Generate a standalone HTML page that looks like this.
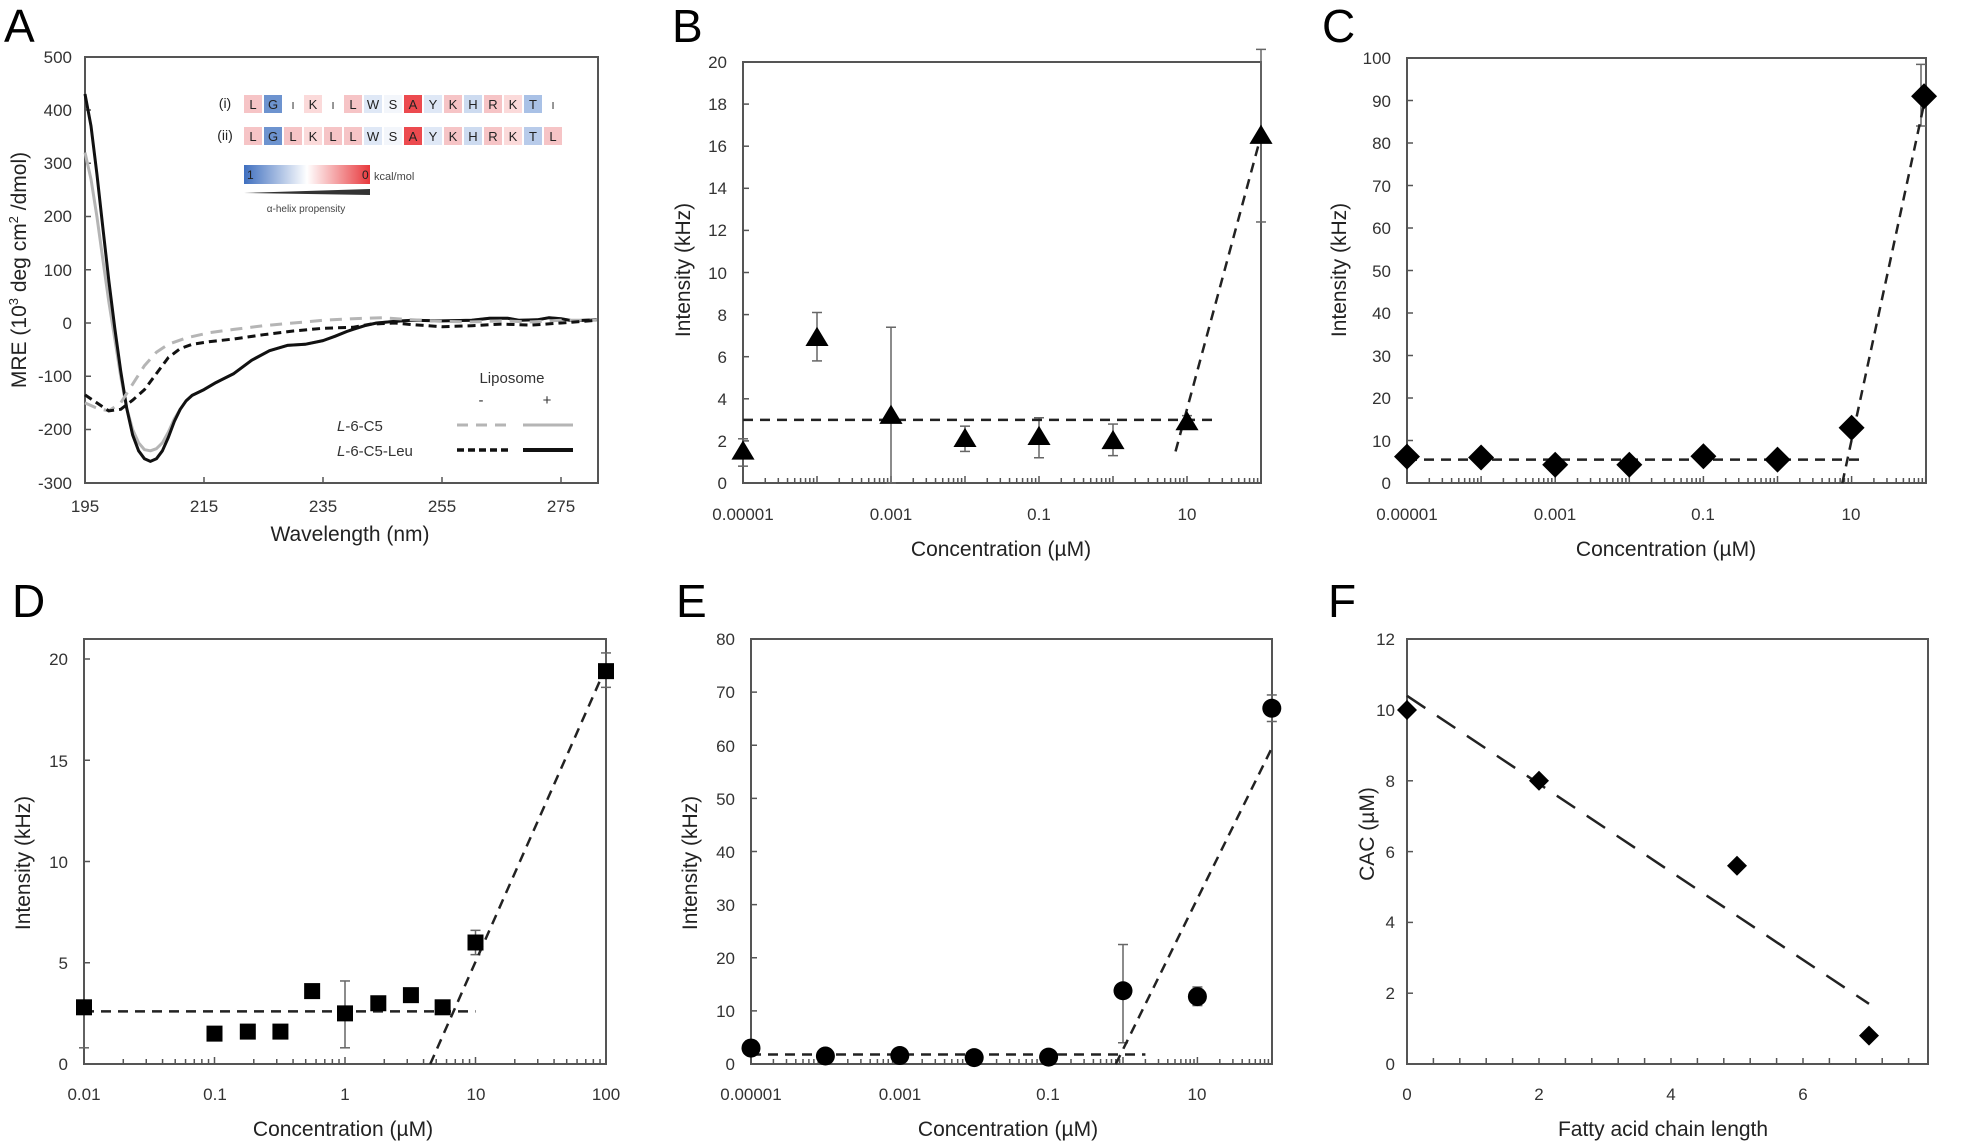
<!DOCTYPE html>
<html><head><meta charset="utf-8"><style>
html,body{margin:0;padding:0;background:#fff;}
svg{display:block;font-family:"Liberation Sans",sans-serif;}
.t{font-size:17px;fill:#333;}
.ti{font-size:21px;fill:#222;}
.pl{font-size:46px;fill:#000;}
</style></head><body>
<svg id="s" width="1975" height="1146" viewBox="0 0 1975 1146" xmlns="http://www.w3.org/2000/svg">
<g id="g"></g>
<text class="pl" x="4" y="42">A</text>
<text class="pl" x="672" y="42">B</text>
<text class="pl" x="1322" y="42">C</text>
<text class="pl" x="12" y="617">D</text>
<text class="pl" x="676" y="617">E</text>
<text class="pl" x="1328" y="617">F</text>

<g class="t" text-anchor="end">
<text x="72" y="63">500</text><text x="72" y="116">400</text><text x="72" y="169">300</text><text x="72" y="222">200</text><text x="72" y="276">100</text><text x="72" y="329">0</text><text x="72" y="382">-100</text><text x="72" y="435">-200</text><text x="72" y="489">-300</text>
</g>
<g class="t" text-anchor="middle">
<text x="85" y="512">195</text><text x="204" y="512">215</text><text x="323" y="512">235</text><text x="442" y="512">255</text><text x="561" y="512">275</text>
</g>
<text class="ti" x="350" y="541" text-anchor="middle">Wavelength (nm)</text>
<text class="ti" transform="translate(26,270) rotate(-90)" text-anchor="middle">MRE (10<tspan font-size="13" dy="-8">3</tspan><tspan dy="8"> deg cm</tspan><tspan font-size="13" dy="-8">2</tspan><tspan dy="8"> /dmol)</tspan></text>
<g font-size="12" fill="#222">
<text x="225" y="108" text-anchor="middle" font-size="14">(i)</text>
<text x="225" y="140" text-anchor="middle" font-size="14">(ii)</text>
<text x="374" y="180" font-size="11" fill="#444">kcal/mol</text>
<text x="306" y="212" font-size="10" text-anchor="middle" fill="#444">α-helix propensity</text>
</g>
<g id="seq" font-size="12" fill="#222" text-anchor="middle"></g>
<g font-size="15" fill="#333">
<text x="512" y="383" text-anchor="middle">Liposome</text>
<text x="481" y="405" text-anchor="middle">-</text>
<text x="547" y="405" text-anchor="middle">+</text>
<text x="337" y="431"><tspan font-style="italic">L</tspan>-6-C5</text>
<text x="337" y="456"><tspan font-style="italic">L</tspan>-6-C5-Leu</text>
</g>

<g class="t" text-anchor="end">
<text x="727" y="489">0</text><text x="727" y="447">2</text><text x="727" y="405">4</text><text x="727" y="363">6</text><text x="727" y="321">8</text><text x="727" y="279">10</text><text x="727" y="236">12</text><text x="727" y="194">14</text><text x="727" y="152">16</text><text x="727" y="110">18</text><text x="727" y="68">20</text>
</g>
<g class="t" text-anchor="middle">
<text x="743" y="520">0.00001</text><text x="891" y="520">0.001</text><text x="1039" y="520">0.1</text><text x="1187" y="520">10</text>
</g>
<text class="ti" x="1001" y="556" text-anchor="middle">Concentration (µM)</text>
<text class="ti" transform="translate(690,270) rotate(-90)" text-anchor="middle">Intensity (kHz)</text>

<g class="t" text-anchor="end">
<text x="1391" y="489">0</text><text x="1391" y="447">10</text><text x="1391" y="404">20</text><text x="1391" y="362">30</text><text x="1391" y="319">40</text><text x="1391" y="277">50</text><text x="1391" y="234">60</text><text x="1391" y="192">70</text><text x="1391" y="149">80</text><text x="1391" y="107">90</text><text x="1391" y="64">100</text>
</g>
<g class="t" text-anchor="middle">
<text x="1407" y="520">0.00001</text><text x="1555" y="520">0.001</text><text x="1703" y="520">0.1</text><text x="1851" y="520">10</text>
</g>
<text class="ti" x="1666" y="556" text-anchor="middle">Concentration (µM)</text>
<text class="ti" transform="translate(1346,270) rotate(-90)" text-anchor="middle">Intensity (kHz)</text>

<g class="t" text-anchor="end">
<text x="68" y="1070">0</text><text x="68" y="969">5</text><text x="68" y="868">10</text><text x="68" y="767">15</text><text x="68" y="665">20</text>
</g>
<g class="t" text-anchor="middle">
<text x="84" y="1100">0.01</text><text x="215" y="1100">0.1</text><text x="345" y="1100">1</text><text x="476" y="1100">10</text><text x="606" y="1100">100</text>
</g>
<text class="ti" x="343" y="1136" text-anchor="middle">Concentration (µM)</text>
<text class="ti" transform="translate(30,863) rotate(-90)" text-anchor="middle">Intensity (kHz)</text>

<g class="t" text-anchor="end">
<text x="735" y="1070">0</text><text x="735" y="1017">10</text><text x="735" y="964">20</text><text x="735" y="911">30</text><text x="735" y="858">40</text><text x="735" y="805">50</text><text x="735" y="752">60</text><text x="735" y="698">70</text><text x="735" y="645">80</text>
</g>
<g class="t" text-anchor="middle">
<text x="751" y="1100">0.00001</text><text x="900" y="1100">0.001</text><text x="1048" y="1100">0.1</text><text x="1197" y="1100">10</text>
</g>
<text class="ti" x="1008" y="1136" text-anchor="middle">Concentration (µM)</text>
<text class="ti" transform="translate(697,863) rotate(-90)" text-anchor="middle">Intensity (kHz)</text>

<g class="t" text-anchor="end">
<text x="1395" y="1070">0</text><text x="1395" y="999">2</text><text x="1395" y="928">4</text><text x="1395" y="858">6</text><text x="1395" y="787">8</text><text x="1395" y="716">10</text><text x="1395" y="645">12</text>
</g>
<g class="t" text-anchor="middle">
<text x="1407" y="1100">0</text><text x="1539" y="1100">2</text><text x="1671" y="1100">4</text><text x="1803" y="1100">6</text>
</g>
<text class="ti" x="1663" y="1136" text-anchor="middle">Fatty acid chain length</text>
<text class="ti" transform="translate(1374,834) rotate(-90)" text-anchor="middle">CAC (µM)</text>
</svg>
<script>
(function(){
var NS="http://www.w3.org/2000/svg",g=document.getElementById("g");
function el(n,a,p){var e=document.createElementNS(NS,n);for(var k in a)e.setAttribute(k,a[k]);(p||g).appendChild(e);return e;}
function line(x1,y1,x2,y2,st,w,da){var a={x1:x1,y1:y1,x2:x2,y2:y2,stroke:st||"#555","stroke-width":w||1.5};if(da)a["stroke-dasharray"]=da;return el("line",a);}
function box(x1,y1,x2,y2){el("rect",{x:x1,y:y1,width:x2-x1,height:y2-y1,fill:"none",stroke:"#555","stroke-width":2});}
function lg(v){return Math.log(v)/Math.LN10;}
var defs=el("defs",{});
var lgd=el("linearGradient",{id:"cb",x1:"0",x2:"1",y1:"0",y2:"0"},defs);
el("stop",{offset:"0","stop-color":"#3f6fbf"},lgd);el("stop",{offset:"0.5","stop-color":"#ffffff"},lgd);el("stop",{offset:"1","stop-color":"#e8383c"},lgd);

var AX=function(n){return 85+(n-195)*5.95},AY=function(v){return 323-v*0.5325};
box(85,57,598,483);
[215,235,255,275].forEach(function(n){line(AX(n),483,AX(n),477)});
for(var v=-200;v<=400;v+=100)line(85,AY(v),91,AY(v));
function curve(pts,st,w,da){var d="";pts.forEach(function(p,i){d+=(i?"L":"M")+AX(p[0]).toFixed(1)+","+AY(p[1]).toFixed(1)});var a={d:d,fill:"none",stroke:st,"stroke-width":w,"stroke-linejoin":"round"};if(da)a["stroke-dasharray"]=da;el("path",a);}
var tail=[[240,-12],[242,-5],[244,0],[247,3],[250,5],[255,4],[260,5],[263,9],[266,9],[268,5],[271,6],[273,10],[275,8],[277,4],[279,5],[281,6]];
var mid=[[207,-255],[208,-240],[209,-215],[210,-185],[211,-162],[212,-146],[213,-136],[215,-125],[217,-112],[220,-95],[223,-70],[226,-52],[229,-42],[232,-40],[235,-33],[237,-25],[239,-16]];
curve([[195,320],[196,270],[197,200],[198,120],[199,40],[200,-30],[201,-100],[202,-160],[203,-200],[204,-225],[205,-238],[206,-240],[207,-236],[208,-225],[209,-205],[210,-180]].concat(mid.slice(4)).concat(tail),"#b5b5b5",3);
curve([[195,430],[196,370],[197,280],[198,180],[199,80],[200,-10],[201,-90],[202,-160],[203,-210],[204,-240],[205,-255],[206,-260]].concat(mid).concat(tail),"#111",3);
curve([[195,-150],[197,-160],[199,-165],[201,-150],[203,-115],[205,-80],[207,-55],[209,-40],[212,-28],[216,-18],[220,-12],[225,-5],[230,0],[235,5],[240,8],[245,10],[250,6],[255,3],[260,2],[265,4],[270,2],[275,5],[281,5]],"#b5b5b5",3,"12,8");
curve([[195,-135],[197,-150],[199,-165],[201,-162],[203,-145],[205,-125],[207,-95],[209,-65],[211,-48],[213,-40],[216,-35],[220,-30],[225,-22],[230,-15],[235,-10],[240,-8],[243,-2],[247,0],[250,-3],[255,-7],[260,-5],[265,-2],[270,-4],[275,0],[281,5]],"#111",3,"8,5");
var seq=document.getElementById("seq");
var P="#f6c4c6",B="#6d93cf",W="#ffffff",LB="#dfe8f6",R="#ec4a4f",LB2="#cddbf0",PP="#fbdada";
var r1=[["L",P],["G",B],["I",W],["K",PP],["I",W],["L",P],["W",LB],["S","#f3f6fb"],["A",R],["Y",LB],["K",P],["H",LB2],["R",P],["K",PP],["T","#a9c1e6"],["I",W]];
var r2=[["L",P],["G",B],["L",P],["K",PP],["L",P],["L",P],["W",LB],["S","#f3f6fb"],["A",R],["Y",LB],["K",P],["H",LB2],["R",P],["K",PP],["T","#b8cbea"],["L",P]];
[[r1,95],[r2,127]].forEach(function(rr){rr[0].forEach(function(c,i){var x=244+i*20;el("rect",{x:x,y:rr[1],width:18,height:18,fill:c[1]},seq);var t=el("text",{x:x+9,y:rr[1]+14,"font-size":(c[0]=="I"?10:13)},seq);t.textContent=c[0];});});
el("rect",{x:244,y:165,width:126,height:19,fill:"url(#cb)"});
el("path",{d:"M244,193 L370,189 L370,195 Z",fill:"#333"});
var t1=el("text",{x:247,y:179,"font-size":12,fill:"#222"});t1.textContent="1";
var t0=el("text",{x:362,y:179,"font-size":12,fill:"#222"});t0.textContent="0";
line(457,425,508,425,"#b5b5b5",3,"11,8");line(523,425,573,425,"#b5b5b5",3);
line(457,450,508,450,"#111",3.5,"7,4");line(523,450,573,450,"#111",4);

function logticks(x0,dec,d0,d1,yb){for(var d=d0;d<d1;d++){for(var m=1;m<=9;m++){var x=x0+(d-d0+lg(m))*dec;var h=(m==1)?7:5;line(x,yb,x,yb-h,"#555",1.5);}}line(x0+(d1-d0)*dec,yb,x0+(d1-d0)*dec,yb-7);}
function yticks(x,y0,y1,n){for(var i=0;i<=n;i++){var y=y0+(y1-y0)*i/n;line(x,y,x+6,y);}}
function err(x,lo,hi){line(x,lo,x,hi,"#666",1.5);line(x-5,lo,x+5,lo,"#666",1.5);line(x-5,hi,x+5,hi,"#666",1.5);}
function tri(x,y,s){el("path",{d:"M"+x+","+(y-s)+" L"+(x+s*1.05)+","+(y+s*0.75)+" L"+(x-s*1.05)+","+(y+s*0.75)+" Z",fill:"#000"});}
function dia(x,y,s){el("path",{d:"M"+x+","+(y-s)+" L"+(x+s)+","+y+" L"+x+","+(y+s)+" L"+(x-s)+","+y+" Z",fill:"#000"});}
function sq(x,y,s){el("rect",{x:x-s,y:y-s,width:2*s,height:2*s,fill:"#000"});}
function circ(x,y,r){el("circle",{cx:x,cy:y,r:r,fill:"#000"});}
var DA="10,7";

var BX=function(c){return 743+(lg(c)+5)*74},BY=function(v){return 483-v*21.05};
box(743,62,1261,483);logticks(743,74,-5,2,483);yticks(743,62,483,10);
var bd=[[1e-5,1.5,0.8,2.1],[1e-4,6.9,5.8,8.1],[1e-3,3.2,0,7.4],[1e-2,2.1,1.5,2.7],[0.1,2.2,1.2,3.1],[1,2.0,1.3,2.8],[10,2.9,2.6,3.2],[100,16.5,12.4,20.6]];
bd.forEach(function(p){err(BX(p[0]),BY(p[2]),BY(p[3]));});
line(743,BY(3),BX(22),BY(3),"#222",2.5,DA);
line(BX(7),BY(1.5),BX(100),BY(16.5),"#222",2.5,DA);
bd.forEach(function(p){tri(BX(p[0]),BY(p[1]),11);});

var CX=function(c){return 1407+(lg(c)+5)*74.1},CY=function(v){return 483-v*4.25};
box(1407,58,1926,483);logticks(1407,74.1,-5,2,483);yticks(1407,58,483,10);
err(1921,CY(84),CY(98.5));
line(1407,CY(5.5),CX(14),CY(5.5),"#222",2.5,DA);
line(CX(7.5),CY(0),CX(100),CY(91),"#222",2.5,DA);
[[1e-5,6.2],[1e-4,6],[1e-3,4.3],[1e-2,4.3],[0.1,6.3],[1,5.5],[10,13],[95,91]].forEach(function(p){dia(CX(p[0]),CY(p[1]),13);});

var DX=function(c){return 84+(lg(c)+2)*130.5},DY=function(v){return 1064-v*20.25};
box(84,639,606,1064);logticks(84,130.5,-2,2,1064);for(var i=1;i<=4;i++)line(84,DY(i*5),90,DY(i*5));
err(DX(0.01),DY(0.8),DY(2.8));err(DX(1),DY(0.8),DY(4.1));err(DX(10),DY(5.4),DY(6.6));err(DX(100),DY(18.6),DY(20.3));
line(84,DY(2.6),DX(10),DY(2.6),"#222",2.5,DA);
line(DX(4.5),DY(0),DX(100),DY(19.6),"#222",2.5,DA);
[[0.01,2.8],[0.1,1.5],[0.18,1.6],[0.32,1.6],[0.56,3.6],[1,2.5],[1.8,3.0],[3.2,3.4],[5.6,2.8],[10,6.0],[100,19.4]].forEach(function(p){sq(DX(p[0]),DY(p[1]),8);});

var EX=function(c){return 751+(lg(c)+5)*74.4},EY=function(v){return 1064-v*5.31};
box(751,639,1272,1064);logticks(751,74.4,-5,2,1064);yticks(751,639,1064,8);
err(EX(1),EY(4),EY(22.5));err(EX(10),EY(11),EY(14.5));err(EX(100),EY(64.5),EY(69.5));
line(751,EY(1.8),EX(2),EY(1.8),"#222",2.5,DA);
line(EX(0.8),EY(0),EX(100),EY(59.5),"#222",2.5,DA);
[[1e-5,3],[1e-4,1.5],[1e-3,1.6],[1e-2,1.2],[0.1,1.3],[1,13.8],[10,12.7],[100,67]].forEach(function(p){circ(EX(p[0]),EY(p[1]),9.5);});

var FX=function(v){return 1407+v*66},FY=function(v){return 1064-v*35.4};
box(1407,639,1928,1064);
for(var k=0;k*0.4<=7.9;k++){var x=FX(k*0.4);line(x,1064,x,1058);}
for(var j=1;j<=6;j++)line(1407,FY(j*2),1413,FY(j*2));
line(FX(0),FY(10.4),FX(7),FY(1.7),"#222",2.5,"22,14");
[[0,10],[2,8],[5,5.6],[7,0.8]].forEach(function(p){dia(FX(p[0]),FY(p[1]),10);});
})();
</script>
</body></html>
